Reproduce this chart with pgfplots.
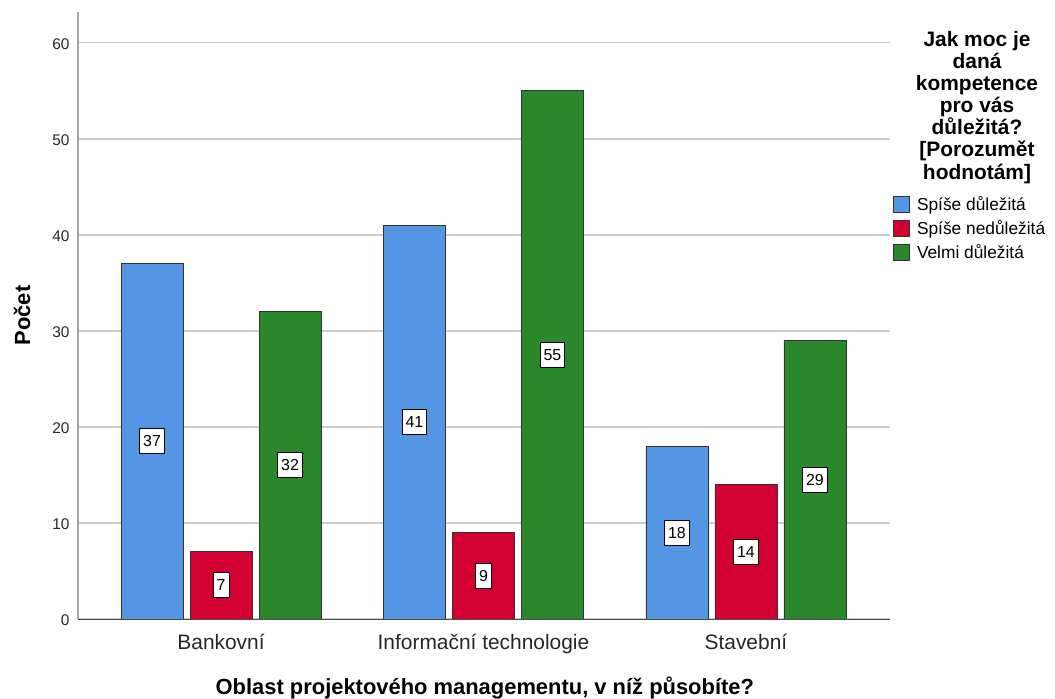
\documentclass[border=0pt]{standalone}
\usepackage{fontspec}
\setmainfont{Liberation Sans}
\usepackage{pgfplots}
\pgfplotsset{compat=1.18}
\definecolor{cblue}{RGB}{84,150,227}
\definecolor{cred}{RGB}{213,0,50}
\definecolor{cgreen}{RGB}{42,135,44}
\pgfplotsset{mylegend/.style={legend image code/.code={\draw[##1, line width=0.8bp, draw=black!80] (0bp,-8bp) rectangle (16bp,8bp); \path (21bp,0bp);}}}
\begin{document}
\begin{tikzpicture}
\useasboundingbox (0,0) rectangle (1055bp,699bp);
\begin{axis}[
 at={(78bp,80bp)}, anchor=south west,
 scale only axis, width=812bp, height=607bp,
 ybar=7bp, bar width=62bp,
 xmin=-0.545, xmax=2.549, ymin=0, ymax=63.2,
 xtick={0,1,2}, xticklabels={Bankovní,Informační technologie,Stavební},
 ytick={0,10,...,60},
 major tick length=0pt,
 axis x line*=bottom, axis y line*=left,
 x axis line style={draw=black!70, line width=1bp, -},
 y axis line style={draw=black!35, line width=2bp, -},
 ymajorgrids, grid style={draw=black!20, line width=1.5bp},
 /pgf/number format/assume math mode=true,
 xticklabel style={font=\fontsize{21}{25}\selectfont, anchor=base, yshift=-30bp, text=black!85},
 yticklabel style={font=\fontsize{15.5}{18}\selectfont, xshift=-5bp, yshift=-1.5bp, text=black!85},
 ylabel={Počet},
 ylabel style={font=\bfseries\fontsize{22}{26}\selectfont, at={(axis description cs:-0.069,0.5)}, anchor=center},
 xlabel={Oblast projektového managementu, v níž působíte?},
 xlabel style={font=\bfseries\fontsize{22}{26}\selectfont, at={(axis description cs:0.501,-0.1137)}, anchor=center},
 nodes near coords,
 visualization depends on={y \as \rawy},
 every node near coord/.append style={anchor=center, shift={(axis direction cs:0,-\rawy/2)}, fill=white, draw=black, line width=0.8bp, inner xsep=3.5bp, inner ysep=0pt, minimum height=25bp, font=\fontsize{16}{19}\selectfont, text=black},
 legend style={at={(axis description cs:1.0037,0.699)}, anchor=north west, draw=none, fill=none, font=\fontsize{17.4}{20}\selectfont, row sep=4.3bp, inner sep=0pt},
 legend cell align=left,
]
\addplot+[fill=cblue, draw=black!80, line width=0.8bp, mylegend] coordinates {(0,37) (1,41) (2,18)};
\addplot+[fill=cred, draw=black!80, line width=0.8bp, mylegend] coordinates {(0,7) (1,9) (2,14)};
\addplot+[fill=cgreen, draw=black!80, line width=0.8bp, mylegend] coordinates {(0,32) (1,55) (2,29)};
\legend{Spíše důležitá, Spíše nedůležitá, Velmi důležitá}
\end{axis}
\node[anchor=north, align=center, font=\bfseries\fontsize{21}{22.2}\selectfont, inner sep=0pt] at (977bp,668bp) {Jak moc je\\daná\\kompetence\\pro vás\\důležitá?\\{[}Porozumět\\hodnotám]};
\end{tikzpicture}
\end{document}
